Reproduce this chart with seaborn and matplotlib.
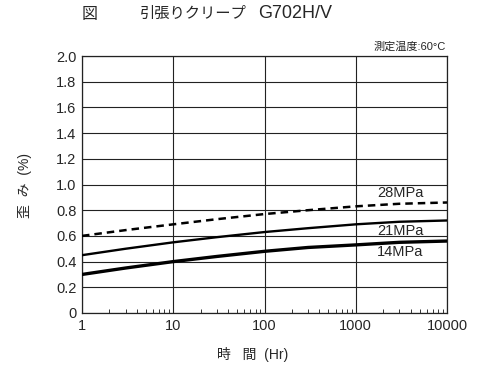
import numpy as np
import pandas as pd
import matplotlib
matplotlib.use("Agg")
import matplotlib.pyplot as plt
import seaborn as sns

hours = [1, 3, 10, 30, 100, 300, 1000, 3000, 10000]
strain_28 = [0.60, 0.645, 0.69, 0.73, 0.77, 0.80, 0.83, 0.85, 0.86]
strain_21 = [0.45, 0.50, 0.55, 0.59, 0.63, 0.66, 0.69, 0.71, 0.72]
strain_14 = [0.30, 0.35, 0.40, 0.44, 0.48, 0.51, 0.53, 0.55, 0.56]
series_labels = ["28MPa", "21MPa", "14MPa"]
x_ticks = [1, 10, 100, 1000, 10000]
x_tick_labels = ["1", "10", "100", "1000", "10000"]
y_ticks = [0, 0.2, 0.4, 0.6, 0.8, 1.0, 1.2, 1.4, 1.6, 1.8, 2.0]
y_tick_labels = ["0", "0.2", "0.4", "0.6", "0.8", "1.0", "1.2", "1.4", "1.6", "1.8", "2.0"]

df = pd.DataFrame({
    "hours": hours * 3,
    "strain": strain_28 + strain_21 + strain_14,
    "series": [series_labels[0]] * len(hours) + [series_labels[1]] * len(hours) + [series_labels[2]] * len(hours),
})

sns.set_style("white")
plt.rcParams["font.family"] = ["Liberation Sans", "Noto Sans CJK JP", "DejaVu Sans"]

fig = plt.figure(figsize=(5.0, 3.83), dpi=100)
ax = fig.add_axes([82 / 500, 1 - 313 / 383, (447 - 82) / 500, (313 - 56) / 383])

styles = {
    "28MPa": dict(lw=1.8, ls=(0, (3.0, 2.0))),
    "21MPa": dict(lw=1.7, ls="-"),
    "14MPa": dict(lw=2.4, ls="-"),
}
for name in series_labels:
    sub = df[df["series"] == name]
    sns.lineplot(data=sub, x="hours", y="strain", ax=ax, color="black",
                 linewidth=styles[name]["lw"], linestyle=styles[name]["ls"],
                 legend=False, zorder=3)

ax.set_xscale("log")
ax.set_xlim(1, 10000)
ax.set_ylim(0, 2.0)
ax.set_xticks(x_ticks)
ax.set_xticklabels(x_tick_labels)
ax.set_yticks(y_ticks)
ax.set_yticklabels(y_tick_labels)
ax.grid(True, which="major", color="#222222", linewidth=0.8)
ax.tick_params(axis="both", which="major", length=0, labelsize=10.5, pad=4)
ax.xaxis.set_minor_locator(matplotlib.ticker.LogLocator(base=10, subs=np.arange(2, 10)))
ax.xaxis.set_minor_formatter(matplotlib.ticker.NullFormatter())
ax.tick_params(axis="x", which="minor", bottom=True, direction="in", length=3,
               width=0.7, color="#333333")
for s in ax.spines.values():
    s.set_color("#222222")
    s.set_linewidth(0.9)
ax.set_xlabel("")
ax.set_ylabel("")

# series labels
ax.text(3050, 0.935, "28MPa", fontsize=10.5, ha="center", va="center")
ax.text(3050, 0.64, "21MPa", fontsize=10.5, ha="center", va="center")
ax.text(3050, 0.475, "14MPa", fontsize=10.5, ha="center", va="center")

fig.text(82 / 500, 1 - 14 / 383, "図", fontsize=11.5, ha="left", va="center")
fig.text(140 / 500, 1 - 14 / 383, "引張りクリープ", fontsize=11, ha="left", va="center")
fig.text(258 / 500, 1 - 14 / 383, "G702H/V", fontsize=13, ha="left", va="center")
fig.text(446 / 500, 1 - 47 / 383, "測定温度:60°C", fontsize=8, ha="right", va="center")
fig.text(25 / 500, 1 - 185 / 383, "歪  み  (%)", fontsize=10, rotation=90, ha="center", va="center")
fig.text(253 / 500, 1 - 354 / 383, "時   間  (Hr)", fontsize=10, ha="center", va="center")

fig.savefig("out.png", dpi=100)
